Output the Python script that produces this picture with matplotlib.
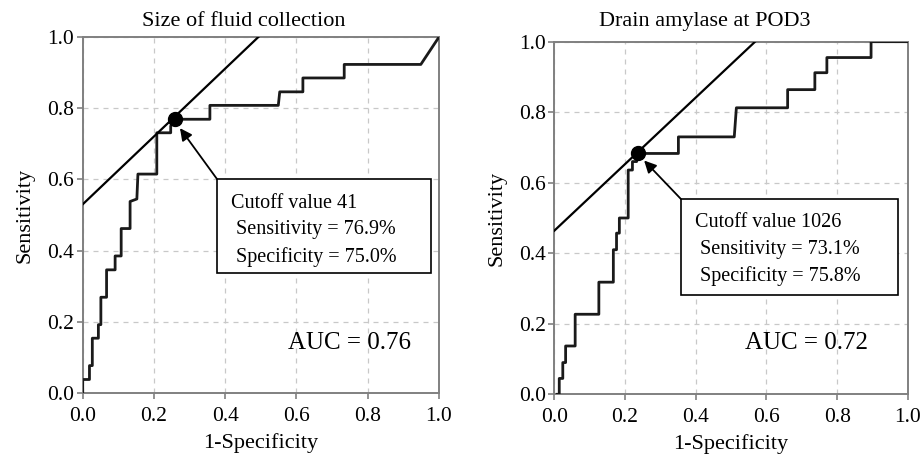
#!/usr/bin/env python3
"""ROC curves for size of fluid collection and drain amylase at POD3."""

import matplotlib
matplotlib.use("Agg")
import matplotlib.pyplot as plt

matplotlib.rcParams.update({
    "font.family": "Liberation Serif",
    "font.size": 11,
    "figure.dpi": 100,
})

# -- ROC points (1-specificity, sensitivity) --
fluid_fpr = [0.0, 0.0, 0.019, 0.019, 0.027, 0.027, 0.044, 0.044, 0.051, 0.051,
             0.067, 0.067, 0.091, 0.091, 0.108, 0.108, 0.133, 0.133, 0.152, 0.155,
             0.208, 0.208, 0.247, 0.247, 0.259, 0.357, 0.357, 0.549, 0.553, 0.618,
             0.618, 0.734, 0.734, 0.949, 1.0]
fluid_tpr = [0.0, 0.038, 0.038, 0.077, 0.077, 0.154, 0.154, 0.192, 0.192, 0.269,
             0.269, 0.346, 0.346, 0.385, 0.385, 0.462, 0.462, 0.538, 0.545, 0.615,
             0.615, 0.731, 0.731, 0.75, 0.769, 0.769, 0.808, 0.808, 0.846, 0.846,
             0.885, 0.885, 0.923, 0.923, 1.0]
fluid_cut = (0.259, 0.769)
fluid_tangent_x = [0.0, 0.493]
fluid_tangent_y = [0.53, 1.0]

amyl_fpr = [0.008, 0.014, 0.014, 0.024, 0.024, 0.032, 0.032, 0.059, 0.059, 0.126,
            0.126, 0.167, 0.167, 0.176, 0.176, 0.184, 0.184, 0.209, 0.209, 0.221,
            0.221, 0.233, 0.233, 0.351, 0.351, 0.509, 0.515, 0.66, 0.66, 0.737,
            0.737, 0.771, 0.771, 0.896, 0.896, 1.0]
amyl_tpr = [0.0, 0.0, 0.045, 0.045, 0.09, 0.09, 0.137, 0.137, 0.227, 0.227,
            0.318, 0.318, 0.41, 0.41, 0.457, 0.457, 0.5, 0.5, 0.636, 0.636,
            0.66, 0.66, 0.683, 0.683, 0.73, 0.73, 0.8125, 0.8125, 0.864, 0.864,
            0.912, 0.912, 0.955, 0.955, 1.0, 1.0]
amyl_cut = (0.237, 0.685)
amyl_tangent_x = [0.0, 0.568]
amyl_tangent_y = [0.464, 1.0]

PANELS = [
    dict(title="Size of fluid collection", fpr=fluid_fpr, tpr=fluid_tpr, cut=fluid_cut,
         tx=fluid_tangent_x, ty=fluid_tangent_y,
         lines=["Cutoff value 41", " Sensitivity = 76.9%", " Specificity = 75.0%"],
         auc="AUC = 0.76",
         rect=[0.0895, 0.14, 0.3856, 0.779], title_x=0.264,
         box=(0.377, 0.337, 0.60, 0.264), arrow_tip=(0.273, 0.744), auc_xy=(0.577, 0.14)),
    dict(title="Drain amylase at POD3", fpr=amyl_fpr, tpr=amyl_tpr, cut=amyl_cut,
         tx=amyl_tangent_x, ty=amyl_tangent_y,
         lines=["Cutoff value 1026", " Sensitivity = 73.1%", " Specificity = 75.8%"],
         auc="AUC = 0.72",
         rect=[0.5999, 0.1372, 0.3826, 0.7716], title_x=0.763,
         box=(0.358, 0.282, 0.615, 0.272), arrow_tip=(0.254, 0.663), auc_xy=(0.54, 0.146)),
]

fig = plt.figure(figsize=(9.24, 4.57))

for p in PANELS:
    ax = fig.add_axes(p["rect"])
    ax.set_xlim(0, 1)
    ax.set_ylim(0, 1)
    ticks = [0.0, 0.2, 0.4, 0.6, 0.8, 1.0]
    ax.set_xticks(ticks)
    ax.set_yticks(ticks)
    ax.set_xticklabels([f"{t:.1f}" for t in ticks], fontsize=15.5)
    ax.set_yticklabels([f"{t:.1f}" for t in ticks], fontsize=15.5)
    ax.tick_params(length=4, color="#808080", width=1.2, pad=2)
    ax.tick_params(axis="x", pad=6)
    for sp in ax.spines.values():
        sp.set_color("#808080")
        sp.set_linewidth(1.4)
    ax.grid(True, linestyle=(0, (4, 4)), color="#c8c8c8", linewidth=0.9)
    ax.set_axisbelow(True)

    ax.plot(p["fpr"], p["tpr"], color="#1a1a1a", linewidth=2.0, zorder=3)
    ax.plot(p["tx"], p["ty"], color="black", linewidth=1.6, zorder=3)
    ax.plot(*p["cut"], marker="o", markersize=10, color="black", zorder=5)

    bx, by, bw, bh = p["box"]
    ax.add_patch(plt.Rectangle((bx, by), bw, bh, facecolor="white",
                               edgecolor="black", linewidth=1.2, zorder=4))
    for i, line in enumerate(p["lines"]):
        ax.text(bx + 0.04, by + bh - 0.068 - i * 0.075, line, fontsize=14.5,
                va="center", ha="left", zorder=6)
    ax.annotate("", xy=p["arrow_tip"], xytext=(bx, by + bh),
                arrowprops=dict(arrowstyle="-|>", color="black", lw=1.3,
                                mutation_scale=18, shrinkA=0, shrinkB=0),
                zorder=6)

    ax.text(*p["auc_xy"], p["auc"], fontsize=18, va="center", ha="left")
    fig.text(p["title_x"], 0.9525, p["title"], fontsize=16, ha="center", va="center")
    ax.set_xlabel("1-Specificity", fontsize=16, labelpad=5)
    ax.set_ylabel("Sensitivity", fontsize=16, labelpad=9)

fig.savefig("out.png", dpi=100)
